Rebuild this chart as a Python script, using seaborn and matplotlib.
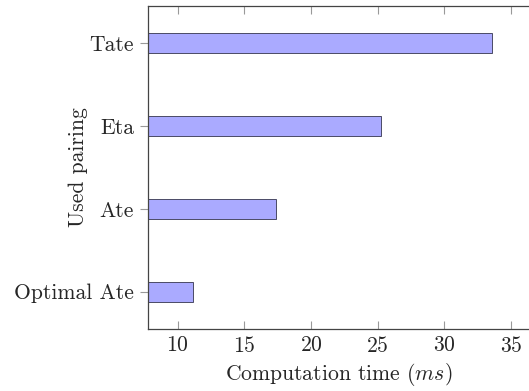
import pandas as pd
import seaborn as sns
import matplotlib.pyplot as plt

pairings = ['Tate', 'Eta', 'Ate', 'Optimal Ate']
times_ms = [33.57, 25.27, 17.37, 11.12]

df = pd.DataFrame({'pairing': pairings, 'time': times_ms})

sns.set_style('white')
plt.rcParams['font.family'] = 'serif'
plt.rcParams['font.serif'] = ['cmr10']
plt.rcParams['mathtext.fontset'] = 'cm'
plt.rcParams['axes.unicode_minus'] = False
plt.rcParams['axes.formatter.use_mathtext'] = True

fig = plt.figure(figsize=(5.29, 3.91), dpi=100)
ax = fig.add_axes([0.2798, 0.1586, 0.7202, 0.8268])

sns.barplot(data=df, x='time', y='pairing', order=pairings, orient='h',
            color='#aaaaff', saturation=1, width=0.24,
            edgecolor='#4a4a66', linewidth=0.7, ax=ax)

ax.set_xlim(7.77, 36.35)
ax.set_ylim(3.45, -0.45)
ax.set_xticks([10, 15, 20, 25, 30, 35])

for side in ['left', 'top', 'bottom']:
    ax.spines[side].set_color('#444444')
    ax.spines[side].set_linewidth(0.9)
ax.spines['right'].set_visible(False)

ax.tick_params(axis='x', direction='in', top=True, bottom=True, length=6,
               width=0.8, color='#999999', labelsize=15.6, pad=5)
ax.tick_params(axis='y', direction='out', left=True, length=6,
               width=0.8, color='#999999', labelsize=15.6, pad=4)

ax.set_xlabel('Computation time ($ms$)', fontsize=15.6, labelpad=4)
ax.set_ylabel('Used pairing', fontsize=15.6)
ax.yaxis.set_label_coords(-0.157, 0.5)

plt.savefig('out.png', dpi=100)
